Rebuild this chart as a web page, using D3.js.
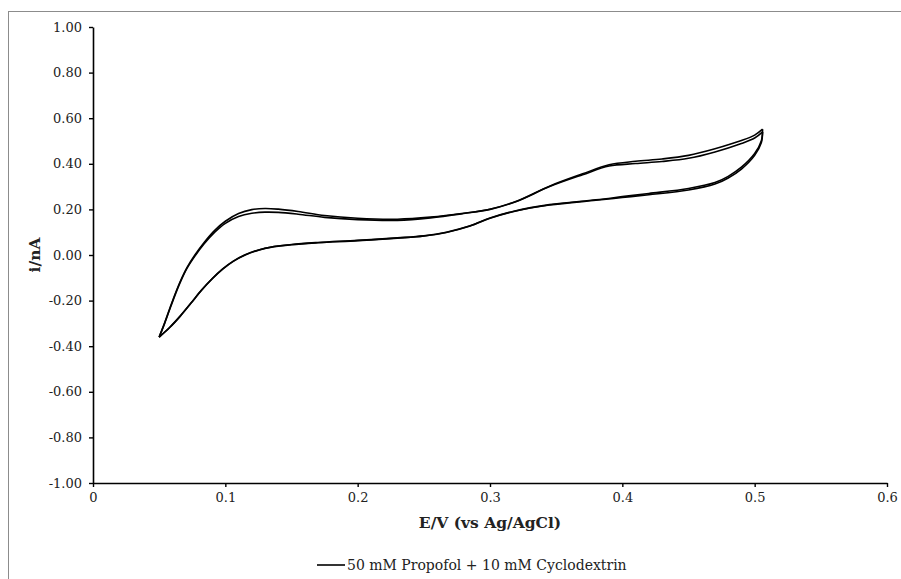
<!DOCTYPE html>
<html>
<head>
<meta charset="utf-8">
<script src="https://cdn.jsdelivr.net/npm/d3@7"></script>
<style>
  html, body { margin: 0; padding: 0; background: #fff; }
</style>
</head>
<body>
<script>
// Cyclic voltammogram, two cycles: [E (V), i (nA)]
const cycle1Forward = [
  [0.050, -0.360], [0.054, -0.300], [0.058, -0.235], [0.062, -0.172], [0.066, -0.115],
  [0.071, -0.055], [0.077, 0.000], [0.084, 0.055], [0.092, 0.108], [0.100, 0.148],
  [0.110, 0.182], [0.120, 0.199], [0.130, 0.204], [0.140, 0.201], [0.155, 0.191],
  [0.175, 0.173], [0.200, 0.161], [0.230, 0.157], [0.255, 0.166], [0.280, 0.183],
  [0.300, 0.201], [0.320, 0.236], [0.345, 0.302], [0.370, 0.356], [0.390, 0.396],
  [0.410, 0.411], [0.430, 0.421], [0.450, 0.437], [0.470, 0.466], [0.490, 0.502],
  [0.500, 0.526], [0.506, 0.552]
]
const cycle1Reverse = [
  [0.506, 0.552], [0.505, 0.500], [0.500, 0.445], [0.490, 0.385], [0.480, 0.345],
  [0.470, 0.318], [0.450, 0.292], [0.420, 0.270], [0.400, 0.256], [0.380, 0.242],
  [0.345, 0.221], [0.318, 0.192], [0.300, 0.162], [0.285, 0.128], [0.267, 0.100],
  [0.250, 0.084], [0.230, 0.075], [0.200, 0.064], [0.170, 0.055], [0.150, 0.046],
  [0.130, 0.030], [0.115, 0.001], [0.106, -0.027], [0.098, -0.061], [0.090, -0.104],
  [0.082, -0.154], [0.074, -0.211], [0.066, -0.267], [0.058, -0.317], [0.050, -0.360]
]
const cycle2Forward = [
  [0.050, -0.360], [0.054, -0.302], [0.058, -0.238], [0.062, -0.176], [0.066, -0.119],
  [0.071, -0.059], [0.077, -0.005], [0.084, 0.049], [0.092, 0.100], [0.100, 0.139],
  [0.110, 0.169], [0.120, 0.183], [0.130, 0.188], [0.140, 0.187], [0.155, 0.179],
  [0.175, 0.165], [0.200, 0.155], [0.230, 0.152], [0.255, 0.163], [0.280, 0.182],
  [0.300, 0.200], [0.320, 0.235], [0.345, 0.300], [0.370, 0.352], [0.390, 0.390],
  [0.410, 0.401], [0.430, 0.410], [0.450, 0.424], [0.470, 0.452], [0.490, 0.489],
  [0.500, 0.513], [0.506, 0.540]
]
const cycle2Reverse = [
  [0.506, 0.540], [0.505, 0.492], [0.500, 0.437], [0.490, 0.377], [0.480, 0.338],
  [0.470, 0.311], [0.450, 0.285], [0.420, 0.264], [0.400, 0.252], [0.380, 0.240],
  [0.345, 0.219], [0.318, 0.191], [0.300, 0.161], [0.285, 0.127], [0.267, 0.099],
  [0.250, 0.083], [0.230, 0.074], [0.200, 0.063], [0.170, 0.054], [0.150, 0.045],
  [0.130, 0.029], [0.115, 0.000], [0.106, -0.028], [0.098, -0.062], [0.090, -0.105],
  [0.082, -0.155], [0.074, -0.212], [0.066, -0.268], [0.058, -0.318], [0.050, -0.360]
]

const xTicks = [0, 0.1, 0.2, 0.3, 0.4, 0.5, 0.6]
const yTicks = [-1.0, -0.8, -0.6, -0.4, -0.2, 0.0, 0.2, 0.4, 0.6, 0.8, 1.0]
const seriesName = '50 mM Propofol + 10 mM Cyclodextrin'

const width = 901
const height = 579
const margin = { top: 27, right: 14, bottom: 96, left: 93 }
const serif = "'DejaVu Serif', 'Liberation Serif', serif"

const svg = d3.select('body')
  .append('svg')
  .attr('width', width)
  .attr('height', height)

svg.append('rect')
  .attr('width', width).attr('height', height)
  .attr('fill', '#fff')

// outer frame (runs past the right / bottom edges)
svg.append('rect')
  .attr('x', 8.5).attr('y', 11.5)
  .attr('width', 940).attr('height', 640)
  .attr('fill', 'none')
  .attr('stroke', '#8c8c8c')
  .attr('stroke-width', 1)

const x = d3.scaleLinear()
  .domain([0, 0.6])
  .range([margin.left, width - margin.right])

const y = d3.scaleLinear()
  .domain([-1, 1])
  .range([height - margin.bottom, margin.top])

// plain hyphen instead of d3's unicode minus
const fmtY = d => d3.format('.2f')(d).replace('\u2212', '-')
const fmtX = d => d === 0 ? '0' : d3.format('.1f')(d)

// axes
const xAxis = svg.append('g')
  .attr('transform', `translate(0, ${y(-1)})`)
  .call(d3.axisBottom(x).tickValues(xTicks).tickSize(4).tickSizeOuter(0).tickFormat(fmtX))

const yAxis = svg.append('g')
  .attr('transform', `translate(${x(0)}, 0)`)
  .call(d3.axisLeft(y).tickValues(yTicks).tickSize(4).tickSizeOuter(0).tickFormat(fmtY))

;[xAxis, yAxis].forEach(ax => {
  ax.select('.domain').attr('stroke', '#000').attr('stroke-width', 1.6)
  ax.selectAll('.tick line').attr('stroke', '#000').attr('stroke-width', 1.4)
  ax.selectAll('.tick text')
    .style('font-family', serif)
    .style('font-size', '13px')
    .attr('fill', '#222')
})
xAxis.selectAll('.tick text').attr('y', 10)
yAxis.selectAll('.tick text').attr('x', -11)

// axis titles
svg.append('text')
  .attr('x', 490).attr('y', 528)
  .attr('text-anchor', 'middle')
  .style('font-family', serif)
  .style('font-size', '15.5px')
  .style('font-weight', 700)
  .attr('fill', '#222')
  .text('E/V (vs Ag/AgCl)')

svg.append('text')
  .attr('transform', `translate(40, ${y(0)}) rotate(-90)`)
  .attr('text-anchor', 'middle')
  .style('font-family', serif)
  .style('font-size', '15.5px')
  .style('font-weight', 700)
  .attr('fill', '#222')
  .text('i/nA')

// curves
const line = d3.line()
  .x(d => x(d[0]))
  .y(d => y(d[1]))
  .curve(d3.curveCatmullRom.alpha(0.5))

const branches = [cycle1Forward, cycle1Reverse, cycle2Forward, cycle2Reverse]
branches.forEach(b => {
  svg.append('path')
    .datum(b)
    .attr('d', line)
    .attr('fill', 'none')
    .attr('stroke', '#000')
    .attr('stroke-width', 1.6)
    .attr('stroke-linejoin', 'round')
})

// legend
const legend = svg.append('g').attr('transform', 'translate(317, 565)')
legend.append('line')
  .attr('x1', 0).attr('x2', 28)
  .attr('y1', 0).attr('y2', 0)
  .attr('stroke', '#000').attr('stroke-width', 1.6)
legend.append('text')
  .attr('x', 30).attr('y', 5)
  .style('font-family', serif)
  .style('font-size', '14px')
  .attr('fill', '#222')
  .text(seriesName)
</script>
</body>
</html>
